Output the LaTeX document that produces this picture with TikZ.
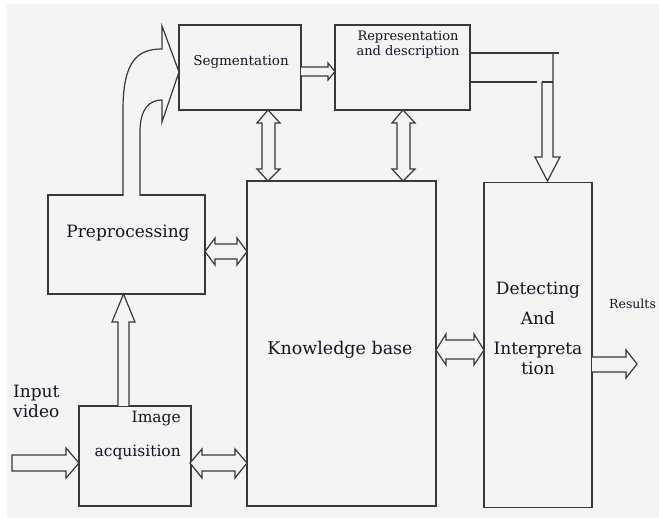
\documentclass[tikz,border=0pt]{standalone}
\usepackage{fontspec}
\setmainfont{DejaVu Serif}
\begin{document}
\begin{tikzpicture}[x=1pt,y=-1pt,
  ln/.style={draw=linec, line width=1.2pt},
  box/.style={ln, rectangle, inner sep=0pt, fill=bgc},
  blk/.style={ln, fill=bgc, line join=miter},
  txt/.style={text=txtc, inner sep=0pt, anchor=base}]
\definecolor{bgc}{HTML}{F4F4F4}
\definecolor{linec}{HTML}{383838}
\definecolor{txtc}{HTML}{141424}
\useasboundingbox (0,0) rectangle (659,518);
\clip (0,0) rectangle (659,518);
\fill[bgc] (7,4) rectangle (659,518);
% boxes
\node[box, minimum width=122pt, minimum height=85pt] (seg) at (240,67.5) {};
\node[box, minimum width=135pt, minimum height=85pt] (rep) at (402.5,67.5) {};
\node[box, minimum width=157pt, minimum height=99pt] (pre) at (126.5,244.5) {};
\node[box, minimum width=189pt, minimum height=325pt] (kb) at (341.5,343.5) {};
\node[box, minimum width=108pt, minimum height=325pt] (det) at (538,345) {};
\node[box, minimum width=112pt, minimum height=100pt] (acq) at (135,456) {};
% texts
\node[txt, font=\fontsize{13.5}{16}\selectfont] (segt) at (241,66) {Segmentation};
\node[txt, font=\fontsize{13}{15}\selectfont] (rept1) at (408,41) {Representation};
\node[txt, font=\fontsize{13}{15}\selectfont] (rept2) at (408,55.5) {and description};
\node[txt, font=\fontsize{17}{20}\selectfont] (pret) at (128,237.5) {Preprocessing};
\node[txt, font=\fontsize{17.5}{20}\selectfont] (kbt) at (340,355) {Knowledge base};
\node[txt, font=\fontsize{17}{20}\selectfont] (dt1) at (538,295) {Detecting};
\node[txt, font=\fontsize{17}{20}\selectfont] (dt2) at (538,325) {And};
\node[txt, font=\fontsize{17}{20}\selectfont] (dt3) at (538,355) {Interpreta};
\node[txt, font=\fontsize{17}{20}\selectfont] (dt4) at (538,375) {tion};
\node[txt, anchor=base west, font=\fontsize{12.5}{15}\selectfont] (rest) at (609,309) {Results};
\node[txt, anchor=base west, font=\fontsize{17}{20}\selectfont] (in1) at (13,398) {Input};
\node[txt, anchor=base west, font=\fontsize{17}{20}\selectfont] (in2) at (13,418) {video};
\node[txt, anchor=base east, font=\fontsize{15.5}{18}\selectfont] (acq1) at (181,423) {Image};
\node[txt, anchor=base east, font=\fontsize{15.5}{18}\selectfont] (acq2) at (181,457) {acquisition};
% curved arrow preprocessing -> segmentation
\draw[blk] (123,196) -- (123,110) .. controls (123,60) and (138,49) .. (162,49)
  -- (162,26) -- (179,72) -- (162,122) -- (162,100)
  .. controls (150,100) and (140,108) .. (140,132) -- (140,196);
% seg -> rep
\draw[blk] (301,67) -- (328,67) -- (328,63) -- (335,71.5) -- (328,80) -- (328,76) -- (301,76);
% seg <-> kb (vertical double)
\draw[blk] (262,123) -- (257,123) -- (268,110) -- (280,123) -- (275,123) -- (275,169)
  -- (280,169) -- (268,181) -- (257,169) -- (262,169) -- cycle;
% rep <-> kb
\draw[blk] (397,123) -- (392,123) -- (403,110) -- (415,123) -- (410,123) -- (410,169)
  -- (415,169) -- (403,181) -- (392,169) -- (397,169) -- cycle;
% pre <-> kb
\draw[blk] (215,244) -- (215,238) -- (205,251.5) -- (215,265) -- (215,259) -- (237,259)
  -- (237,265) -- (247,251.5) -- (237,238) -- (237,244) -- cycle;
% acq <-> kb
\draw[blk] (202,455) -- (202,449) -- (190,463) -- (202,478) -- (202,471) -- (235,471)
  -- (235,478) -- (247,463) -- (235,449) -- (235,455) -- cycle;
% kb <-> det
\draw[blk] (446,340) -- (446,334) -- (436,350) -- (446,365) -- (446,359) -- (474,359)
  -- (474,365) -- (484,350) -- (474,334) -- (474,340) -- cycle;
% acq -> pre
\draw[blk] (118,406) -- (118,322) -- (112,322) -- (123.5,294) -- (135,322) -- (129,322) -- (129,406);
% input -> acq
\draw[blk] (12,455) -- (66,455) -- (66,448) -- (79,463) -- (66,478) -- (66,471) -- (12,471) -- cycle;
% det -> results
\draw[blk] (592,357) -- (626,357) -- (626,350) -- (637,364) -- (626,378) -- (626,372) -- (592,372);
% rep -> det
\draw[ln] (470,53) -- (559,53);
\draw[ln] (470,82) -- (537,82);
\draw[blk] (542,82) -- (542,157) -- (535,157) -- (547.5,181) -- (560,157) -- (553,157) -- (553,53);
\draw[ln] (542,82) -- (553,82);
\end{tikzpicture}
\end{document}
